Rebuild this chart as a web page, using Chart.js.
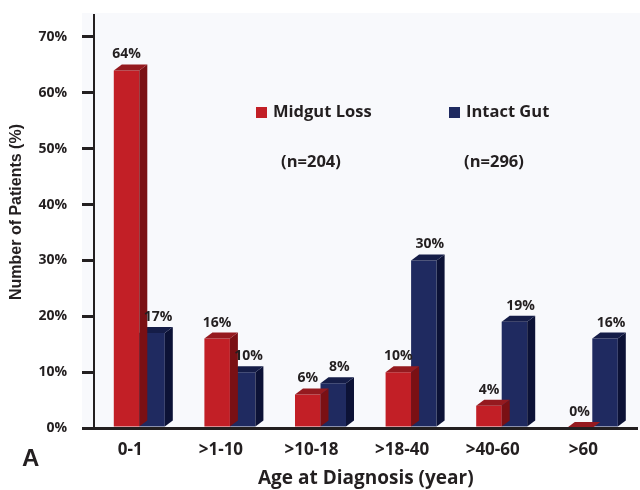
<!DOCTYPE html>
<html>
<head>
<meta charset="utf-8">
<script src="https://cdn.jsdelivr.net/npm/chart.js@4/dist/chart.umd.min.js"></script>
<style>
  html, body { margin: 0; padding: 0; background: #ffffff; }
  #wrap { width: 640px; height: 490px; position: relative; }
</style>
</head>
<body>
<div id="wrap"><canvas id="chart" width="640" height="490"></canvas></div>
<script>
        // Data
        const ageGroups = ['0-1', '>1-10', '>10-18', '>18-40', '>40-60', '>60'];
        const midgutLoss = [64, 16, 6, 10, 4, 0];
        const intactGut = [17, 10, 8, 30, 19, 16];
        const seriesNames = ['Midgut Loss', 'Intact Gut'];
        const sampleSizes = ['(n=204)', '(n=296)'];
        const yTickValues = [0, 10, 20, 30, 40, 50, 60, 70];

        const INK = '#231f20';
        const FACES = [
            { front: '#c21f26', side: '#7a1014', top: '#951a1f' },
            { front: '#1f2a60', side: '#0c1236', top: '#151d48' }
        ];
        const DEPTH_X = 8, DEPTH_Y = 6;

        // plot background (light panel behind bars)
        const panelBg = {
            id: 'panelBg',
            beforeDraw(chart) {
                const { ctx, chartArea } = chart;
                ctx.save();
                ctx.fillStyle = '#f8f9fc';
                ctx.fillRect(82, 13, chart.width - 82, chartArea.bottom - 13);
                ctx.restore();
            }
        };

        // 3D side + top faces, drawn right after each dataset so the next one overlaps
        const bars3d = {
            id: 'bars3d',
            afterDatasetDraw(chart, args) {
                const { ctx } = chart;
                const faces = FACES[args.index];
                ctx.save();
                args.meta.data.forEach((bar) => {
                    const { x, y, base, width } = bar.getProps(['x', 'y', 'base', 'width'], true);
                    const l = x - width / 2, r = x + width / 2;
                    // side
                    ctx.fillStyle = faces.side;
                    ctx.beginPath();
                    ctx.moveTo(r, y);
                    ctx.lineTo(r + DEPTH_X, y - DEPTH_Y);
                    ctx.lineTo(r + DEPTH_X, base - DEPTH_Y);
                    ctx.lineTo(r, base);
                    ctx.closePath();
                    ctx.fill();
                    // top
                    ctx.fillStyle = faces.top;
                    ctx.beginPath();
                    ctx.moveTo(l, y);
                    ctx.lineTo(l + DEPTH_X, y - DEPTH_Y);
                    ctx.lineTo(r + DEPTH_X, y - DEPTH_Y);
                    ctx.lineTo(r, y);
                    ctx.closePath();
                    ctx.fill();
                });
                ctx.restore();
            }
        };

        // value labels, legend, n= text, axis title, panel letter
        const annotations = {
            id: 'annotations',
            afterDraw(chart) {
                const { ctx } = chart;
                ctx.save();
                ctx.fillStyle = INK;
                ctx.textAlign = 'center';
                ctx.textBaseline = 'middle';
                ctx.font = 'bold 14px "Open Sans"';
                chart.data.datasets.forEach((ds, di) => {
                    const meta = chart.getDatasetMeta(di);
                    meta.data.forEach((bar, i) => {
                        const shift = di === 1 ? 6 : 0;
                        ctx.fillText(ds.data[i] + '%', bar.x + shift, bar.y - 16);
                    });
                });

                // legend
                const legendX = [256, 449];
                ctx.font = 'bold 16.5px "Open Sans"';
                seriesNames.forEach((name, i) => {
                    ctx.fillStyle = FACES[i].front;
                    ctx.fillRect(legendX[i], 107, 11, 11);
                    ctx.fillStyle = INK;
                    ctx.textAlign = 'left';
                    ctx.fillText(name, legendX[i] + 17, 112);
                    ctx.textAlign = 'center';
                    ctx.fillText(sampleSizes[i], legendX[i] + (i === 0 ? 55 : 45), 162);
                });

                // y axis title
                ctx.save();
                ctx.translate(17, 212);
                ctx.rotate(-Math.PI / 2);
                ctx.textAlign = 'center';
                ctx.font = 'bold 16px "Liberation Sans"';
                ctx.fillText('Number of Patients (%)', 0, 0);
                ctx.restore();

                ctx.font = 'bold 24px "Liberation Sans"';
                ctx.textAlign = 'left';
                ctx.fillText('A', 22, 459);
                ctx.restore();
            }
        };

        const ctx = document.getElementById('chart').getContext('2d');
        new Chart(ctx, {
            type: 'bar',
            data: {
                labels: ageGroups,
                datasets: [
                    { label: seriesNames[0], data: midgutLoss, backgroundColor: FACES[0].front, borderWidth: 0 },
                    { label: seriesNames[1], data: intactGut, backgroundColor: FACES[1].front, borderWidth: 0 }
                ]
            },
            options: {
                responsive: false,
                animation: false,
                devicePixelRatio: 1,
                layout: { padding: { top: 14.6, right: 2.4, left: 0, bottom: 0 } },
                datasets: { bar: { categoryPercentage: 0.563, barPercentage: 1 } },
                plugins: { legend: { display: false }, tooltip: { enabled: false } },
                scales: {
                    x: {
                        afterFit: (s) => { s.height = 62; },
                        grid: { display: false, drawTicks: false },
                        border: { display: true, color: INK, width: 3, z: 1 },
                        ticks: { color: INK, font: { family: 'Open Sans', size: 17, weight: 'bold' }, padding: 12, labelOffset: -9 },
                        title: {
                            display: true, text: 'Age at Diagnosis (year)', color: INK,
                            font: { family: 'Open Sans', size: 19, weight: 'bold' }, padding: { top: 0, bottom: 0 }
                        }
                    },
                    y: {
                        min: 0, max: 74,
                        afterFit: (s) => { s.width = 94; s.paddingTop = 0; s.paddingBottom = 0; },
                        afterBuildTicks: (s) => { s.ticks = yTickValues.map(v => ({ value: v })); },
                        grid: { drawOnChartArea: false, drawTicks: true, tickLength: 12, color: INK, lineWidth: 3 },
                        border: { display: true, color: INK, width: 2 },
                        ticks: {
                            color: INK, padding: 15,
                            font: { family: 'Open Sans', size: 14, weight: 'bold' },
                            callback: (v) => v + '%'
                        }
                    }
                }
            },
            plugins: [panelBg, bars3d, annotations]
        });
</script>
</body>
</html>
